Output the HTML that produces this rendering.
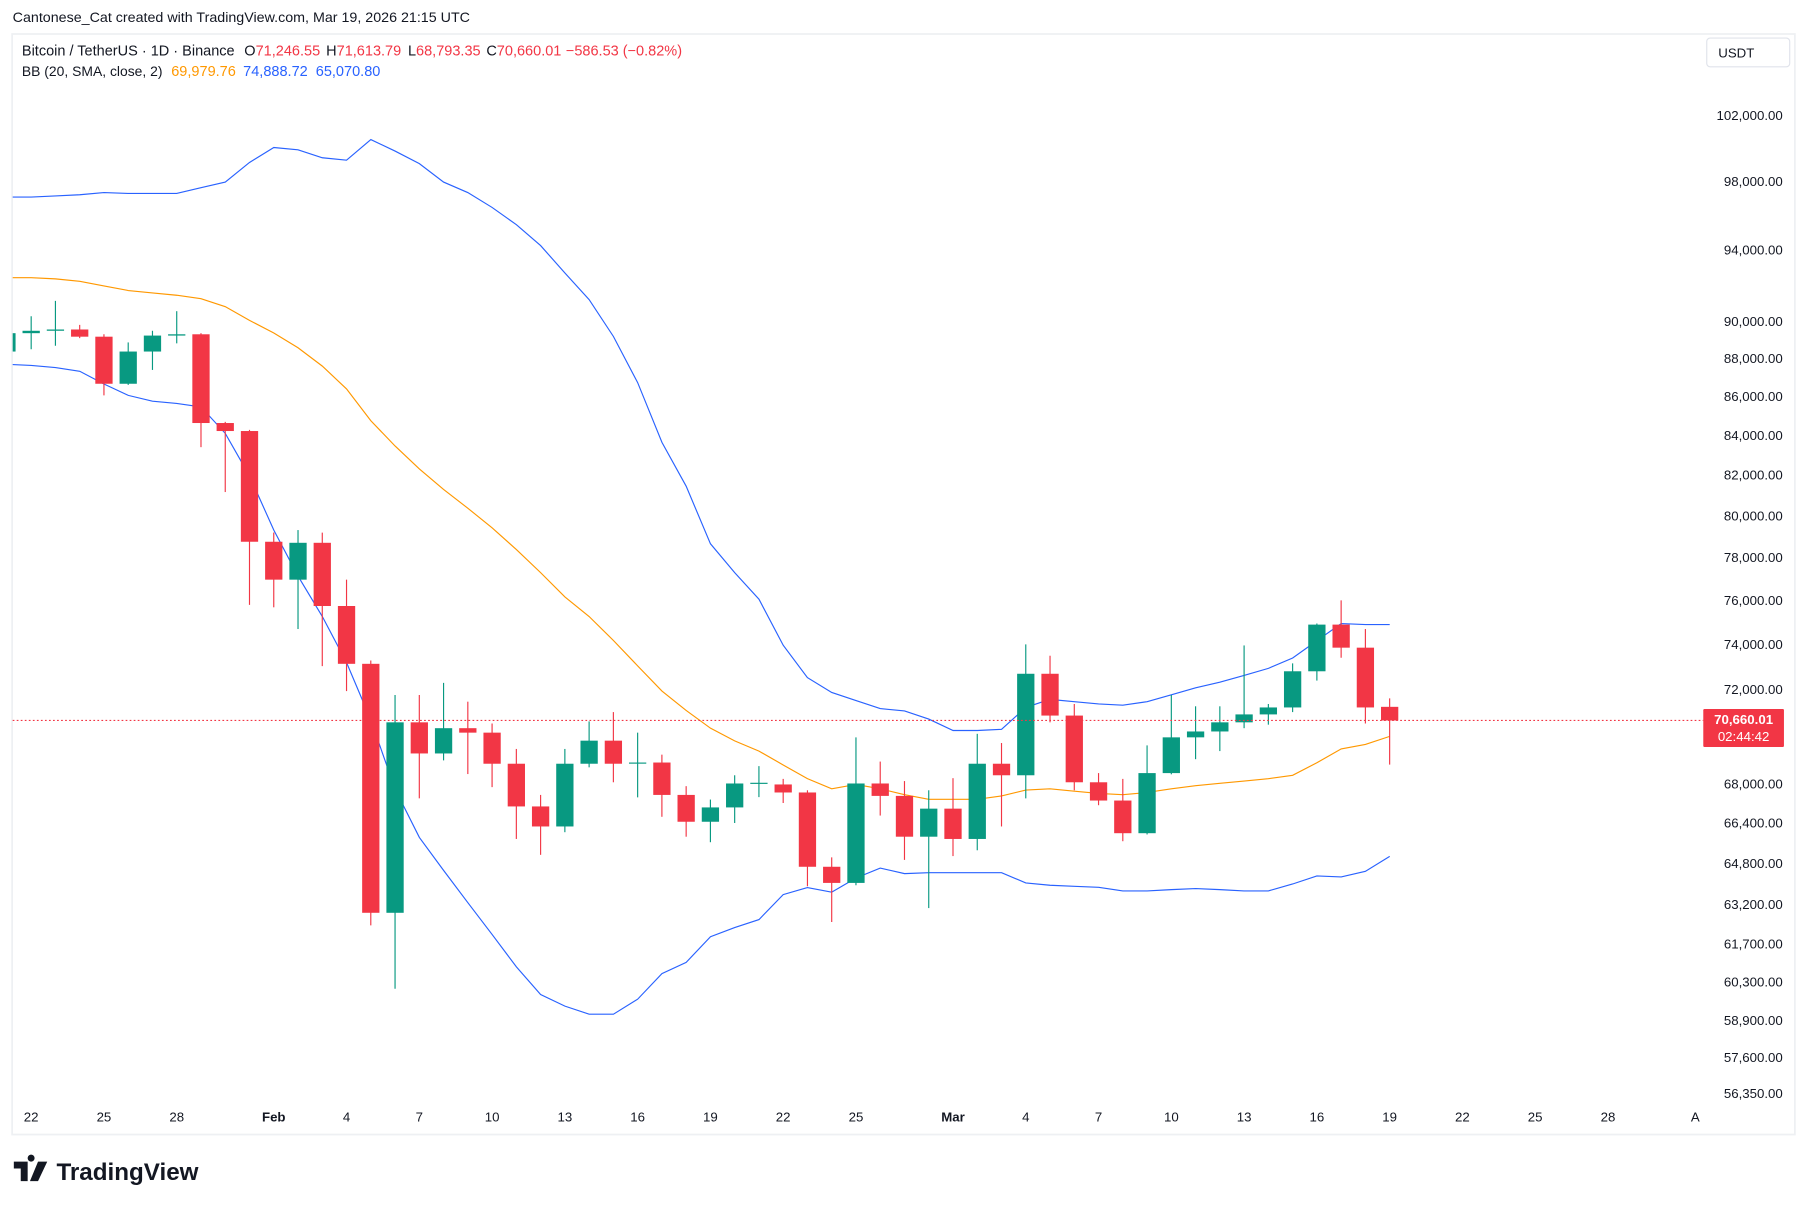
<!DOCTYPE html>
<html><head><meta charset="utf-8"><style>
html,body{margin:0;padding:0;background:#fff;}
svg{display:block;font-family:"Liberation Sans","DejaVu Sans",sans-serif;}
</style></head><body>
<svg id="chart" width="1807" height="1207" viewBox="0 0 1568 1047.4" preserveAspectRatio="none" xmlns="http://www.w3.org/2000/svg">
<rect x="0" y="0" width="1568" height="1047.4" fill="#fff"/>
<text x="11" y="19" font-size="12.4" fill="#131722">Cantonese_Cat created with TradingView.com, Mar 19, 2026 21:15 UTC</text>
<rect x="10.5" y="29.5" width="1547" height="955" fill="none" stroke="#eef0f3" stroke-width="1.5"/>
<g id="plot"></g>
<g font-size="12.6">
<text x="19" y="48" fill="#131722">Bitcoin / TetherUS · 1D · Binance</text>
<text x="212" y="48" fill="#131722">O<tspan fill="#F23645">71,246.55</tspan></text>
<text x="283" y="48" fill="#131722">H<tspan fill="#F23645">71,613.79</tspan></text>
<text x="354" y="48" fill="#131722">L<tspan fill="#F23645">68,793.35</tspan></text>
<text x="422" y="48" fill="#131722">C<tspan fill="#F23645">70,660.01</tspan></text>
<text x="491" y="48" fill="#F23645">−586.53 (−0.82%)</text>
</g>
<g font-size="12.6">
<text x="19" y="66" fill="#131722" font-size="12.2" textLength="122" lengthAdjust="spacingAndGlyphs">BB (20, SMA, close, 2)</text>
<text x="148.6" y="66" fill="#FF9800">69,979.76</text>
<text x="211" y="66" fill="#2962FF">74,888.72</text>
<text x="274" y="66" fill="#2962FF">65,070.80</text>
</g>
<rect x="1481" y="33" width="72" height="25" rx="3" fill="#fff" stroke="#e0e3eb"/>
<text x="1491" y="50" font-size="11.5" fill="#131722">USDT</text>
<g>
<path d="M12 1008h12v17h-6v-11h-6z M27 1008a3 3 0 1 1 0.01 0z M33 1008h8l-8 17h-7z" fill="#131722"/>
<text x="49" y="1024" font-size="21" font-weight="bold" fill="#131722">TradingView</text>
</g>
</svg>
<script>
const dates = ["Jan 21","Jan 22","Jan 23","Jan 24","Jan 25","Jan 26","Jan 27","Jan 28","Jan 29","Jan 30","Jan 31","Feb 1","Feb 2","Feb 3","Feb 4","Feb 5","Feb 6","Feb 7","Feb 8","Feb 9","Feb 10","Feb 11","Feb 12","Feb 13","Feb 14","Feb 15","Feb 16","Feb 17","Feb 18","Feb 19","Feb 20","Feb 21","Feb 22","Feb 23","Feb 24","Feb 25","Feb 26","Feb 27","Feb 28","Mar 1","Mar 2","Mar 3","Mar 4","Mar 5","Mar 6","Mar 7","Mar 8","Mar 9","Mar 10","Mar 11","Mar 12","Mar 13","Mar 14","Mar 15","Mar 16","Mar 17","Mar 18","Mar 19"];
const opens = [88380,89370,89500,89570,89180,86670,88380,89240,89310,84630,84220,78750,76960,78700,75740,73130,62880,70580,69260,70330,70140,68830,67070,66260,68830,69800,68870,68880,67540,66450,67030,68010,67970,67640,64660,64030,68010,67500,65850,66980,65760,68830,68350,72690,70870,68060,67310,65990,68440,69940,70190,70580,70920,71220,72800,74890,73850,71246.55];
const highs = [89500,90290,91140,89820,89310,88870,89500,90570,89370,84690,84280,79190,79310,79190,76960,73280,71760,71760,72290,71470,70530,69450,67540,69450,70620,71020,70140,69210,67900,67350,68350,68730,68200,67730,65030,69940,68920,68110,67730,68230,70090,69700,74000,73490,71370,68440,68200,69600,71760,71270,71270,73950,71370,73150,74940,76000,74690,71613.79];
const lows = [88300,88500,88690,89100,86060,86610,87400,88820,83400,81160,75790,75680,74690,73030,71930,62400,60050,67400,68970,68400,67860,65760,65130,66030,68680,68060,67440,66650,65850,65630,66400,67450,67210,63900,62530,63940,66700,64930,63060,65080,65310,66260,67400,70580,67730,67120,65670,65940,68390,69020,69360,70330,70480,71020,72390,73400,70530,68793.35];
const closes = [89370,89500,89570,89180,86670,88380,89240,89310,84630,84220,78750,76960,78700,75740,73130,62880,70580,69260,70330,70140,68830,67070,66260,68830,69800,68830,68880,67540,66450,67030,68010,68040,67640,64660,64030,68010,67500,65850,66980,65760,68830,68350,72690,70870,68060,67310,65990,68440,69940,70190,70580,70920,71220,72800,74890,73850,71220,70660.01];
const bbUpper = [97060,97060,97130,97200,97330,97270,97270,97270,97610,97950,99120,100020,99880,99400,99260,100510,99810,99050,97950,97330,96450,95450,94250,92690,91210,89190,86730,83640,81450,78650,77290,76050,73960,72520,71870,71520,71170,71070,70720,70230,70230,70280,71220,71570,71470,71370,71320,71470,71770,72070,72320,72620,72930,73390,74160,74940,74890,74890];
const bbMiddle = [92430,92430,92360,92230,91970,91710,91580,91450,91260,90820,90070,89380,88580,87600,86400,84750,83460,82310,81290,80370,79420,78380,77290,76160,75260,74170,73040,71930,71090,70330,69790,69360,68780,68210,67790,67970,67790,67550,67360,67360,67360,67500,67740,67790,67690,67600,67550,67640,67790,67920,68020,68110,68210,68350,68870,69450,69640,69980];
const bbLower = [87700,87640,87520,87330,86660,86060,85760,85640,85460,84100,81960,79310,77130,75260,73190,70680,67780,65820,64520,63270,62060,60850,59840,59420,59130,59130,59670,60600,61020,61970,62320,62620,63580,63850,63670,64220,64610,64390,64430,64430,64430,64430,64030,63940,63900,63860,63720,63720,63770,63810,63770,63720,63720,63990,64300,64260,64480,65070];
const priceTicks = [102000,98000,94000,90000,88000,86000,84000,82000,80000,78000,76000,74000,72000,68000,66400,64800,63200,61700,60300,58900,57600,56350];
const timeTickLabels = ["22","25","28","Feb","4","7","10","13","16","19","22","25","Mar","4","7","10","13","16","19","22","25","28","A"];
const timeTickOffsets = [1,4,7,11,14,17,20,23,26,29,32,35,39,42,45,48,51,54,57,60,63,66,69.6];
const lastPrice = 70660.01;
const countdown = "02:44:42";

const NS = "http://www.w3.org/2000/svg";
const Y0 = 100, PXLN = 1430.7, REF = 102000;
function yScale(v){ return Y0 + (Math.log(REF) - Math.log(v)) * PXLN; }
const X0 = 6, DX = 21.05;
function xScale(i){ return X0 + i * DX; }
function mk(tag, attrs, parent){ const e = document.createElementNS(NS, tag); for (const k in attrs) e.setAttribute(k, attrs[k]); parent.appendChild(e); return e; }
function fmt(v){ return v.toLocaleString("en-US",{minimumFractionDigits:2,maximumFractionDigits:2}); }

const svg = document.getElementById("chart");
const plot = document.getElementById("plot");
const defs = mk("defs", {}, svg);
const cp = mk("clipPath", {id:"clip"}, defs);
mk("rect", {x:11, y:30, width:1460, height:935}, cp);
const g = mk("g", {"clip-path":"url(#clip)"}, plot);

const pl = mk("line", {x1:11, x2:1478, y1:yScale(lastPrice), y2:yScale(lastPrice), stroke:"#F23645", "stroke-width":1, "stroke-dasharray":"1.5 2"}, plot);



function band(arr, color, name, w){
  const d = arr.map((v,i)=>(i?"L":"M")+xScale(i).toFixed(1)+" "+yScale(v).toFixed(1)).join(" ");
  const p = mk("path", {d:d, fill:"none", stroke:color, "stroke-width":w}, g);
  
  
}
band(bbUpper, "#2962FF", "bb-upper-band", 1);
band(bbLower, "#2962FF", "bb-lower-band", 1);
band(bbMiddle, "#FF9800", "bb-middle-band", 1);

for (let i = 0; i < dates.length; i++){
  const up = closes[i] >= opens[i];
  const col = up ? "#089981" : "#F23645";
  const cg = mk("g", {}, g);
  
  
  const x = xScale(i);
  mk("line", {x1:x, x2:x, y1:yScale(highs[i]), y2:yScale(lows[i]), stroke:col, "stroke-width":1}, cg);
  const yt = yScale(Math.max(opens[i], closes[i])), yb = yScale(Math.min(opens[i], closes[i]));
  mk("rect", {x:x-7.5, y:yt, width:15, height:Math.max(1, yb-yt), fill:col}, cg);
}

priceTicks.forEach(v=>{
  const t = mk("text", {x:1547, y:yScale(v)+4, "font-size":11.5, fill:"#131722", "text-anchor":"end"}, svg);
  
  
  t.textContent = fmt(v);
});
timeTickLabels.forEach((s,k)=>{
  const bold = (s==="Feb"||s==="Mar");
  const t = mk("text", {x:xScale(timeTickOffsets[k]), y:973, "font-size":11.5, fill:"#131722", "text-anchor":"middle", "font-weight": bold?"bold":"normal"}, svg);
  
  
  t.textContent = s;
});

const ly = yScale(lastPrice);
const tag = mk("g", {}, svg);


mk("rect", {x:1478, y:ly-10, width:70, height:33, rx:1, fill:"#F23645"}, tag);
const t1 = mk("text", {x:1513, y:ly+3, "font-size":11.5, fill:"#fff", "text-anchor":"middle", "font-weight":"bold"}, tag);
t1.textContent = fmt(lastPrice);
const t2 = mk("text", {x:1513, y:ly+18, "font-size":11.5, fill:"#fff", "text-anchor":"middle"}, tag);
t2.textContent = countdown;
</script>
</body></html>
